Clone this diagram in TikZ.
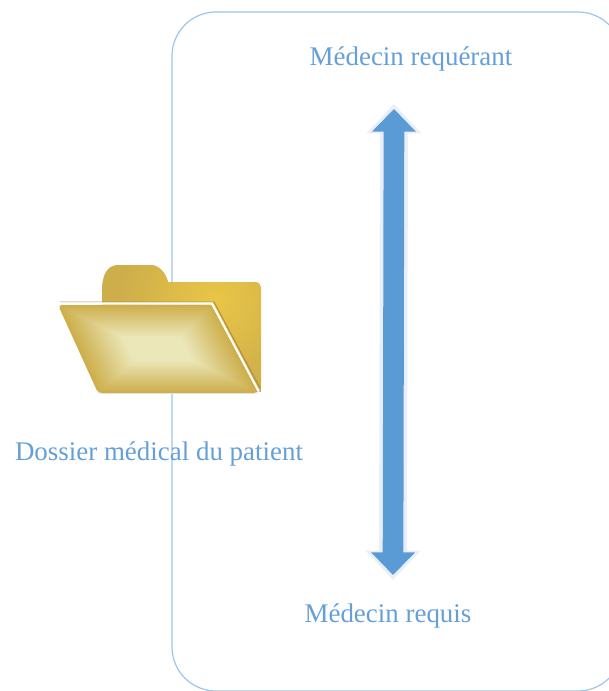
\documentclass[tikz,border=0pt]{standalone}
\usepackage{fontspec}
\setmainfont{Liberation Serif}
\usetikzlibrary{arrows.meta,calc}
\definecolor{framecol}{HTML}{A0C4E8}
\definecolor{labelcol}{HTML}{659FD8}
\definecolor{arrowcol}{HTML}{5B9BD5}
\definecolor{halocol}{HTML}{E9EFF8}
\definecolor{foldedge}{HTML}{CDAE4A}
\definecolor{foldmid}{HTML}{EBE7B9}
\definecolor{foldback}{HTML}{E9C647}
\definecolor{foldbrown}{HTML}{B08A42}
\tikzset{
  framebox/.style={draw=framecol,line width=.9pt,rounded corners=33pt},
  label/.style={text=labelcol,font=\fontsize{20.2}{20.2}\selectfont,inner sep=0pt},
  bigarrow/.style={draw=arrowcol,line width=15.5pt,{Triangle[width=32pt,length=17pt]}-{Triangle[width=32pt,length=17pt]}},
  bighalo/.style={draw=halocol,line width=21pt,{Triangle[width=40pt,length=22pt]}-{Triangle[width=40pt,length=22pt]}}
}
\begin{document}
\begin{tikzpicture}[x=.75pt,y=-.75pt]
\useasboundingbox (0,0) rectangle (608,691);
% frame runs off the page on the right and at the bottom
\draw[framebox] (172,12) rectangle (622,691);
% labels
\node[label] (requerant) at (411,59) {Médecin requérant};
\node[label] (requis) at (388,616) {Médecin requis};
\node[label] (dossier) at (159,454) {Dossier médical du patient};
% double arrow
\coordinate (halotop) at (394,104);
\coordinate (halobot) at (393,580);
\draw[bighalo] (halotop) -- (halobot);
\coordinate (arrowtop) at (394,109);
\coordinate (arrowbot) at (393,575);
\draw[bigarrow] (arrowtop) -- (arrowbot);
% folder, back part
\begin{scope}
\clip (102,306) -- (102,290) .. controls (102,274) and (108,265) .. (118,265) -- (150,265) .. controls (160,265) and (166,274) .. (168,282) -- (254,282) .. controls (259,282) and (261,285) .. (261,289) -- (261,392) -- (102,392) -- cycle;
\fill[foldedge] (102,265) rectangle (261,392);
\shade[inner color=foldback,outer color=foldedge] (215,300) circle (95);
\end{scope}
% folder, front part
\coordinate (fa) at (58,305);
\coordinate (fb) at (213,305);
\coordinate (fc) at (258,393);
\coordinate (fd) at (98,393);
\coordinate (ma) at (122,337);
\coordinate (mb) at (181,337);
\coordinate (mc) at (193,361);
\coordinate (md) at (134,361);
\draw[halocol,line width=2pt] (fd) -- (fc);
\begin{scope}
\clip[rounded corners=3pt] (fa) -- (fb) -- (fc) -- (fd) -- cycle;
\foreach \i in {0,...,40}{
  \pgfmathsetmacro{\t}{\i/40}
  \pgfmathsetmacro{\p}{100*\i/40}
  \fill[foldmid!\p!foldedge] ($(fa)!\t!(ma)$) -- ($(fb)!\t!(mb)$) -- ($(fc)!\t!(mc)$) -- ($(fd)!\t!(md)$) -- cycle;
}
\end{scope}
% edges of the front part
\draw[foldbrown,line width=.7pt] (60,302) -- (214,302) -- (260,388);
\draw[white,line width=1.6pt,line cap=round] (60,303.5) -- (212,303.5) -- (258.5,391);
\end{tikzpicture}
\end{document}
